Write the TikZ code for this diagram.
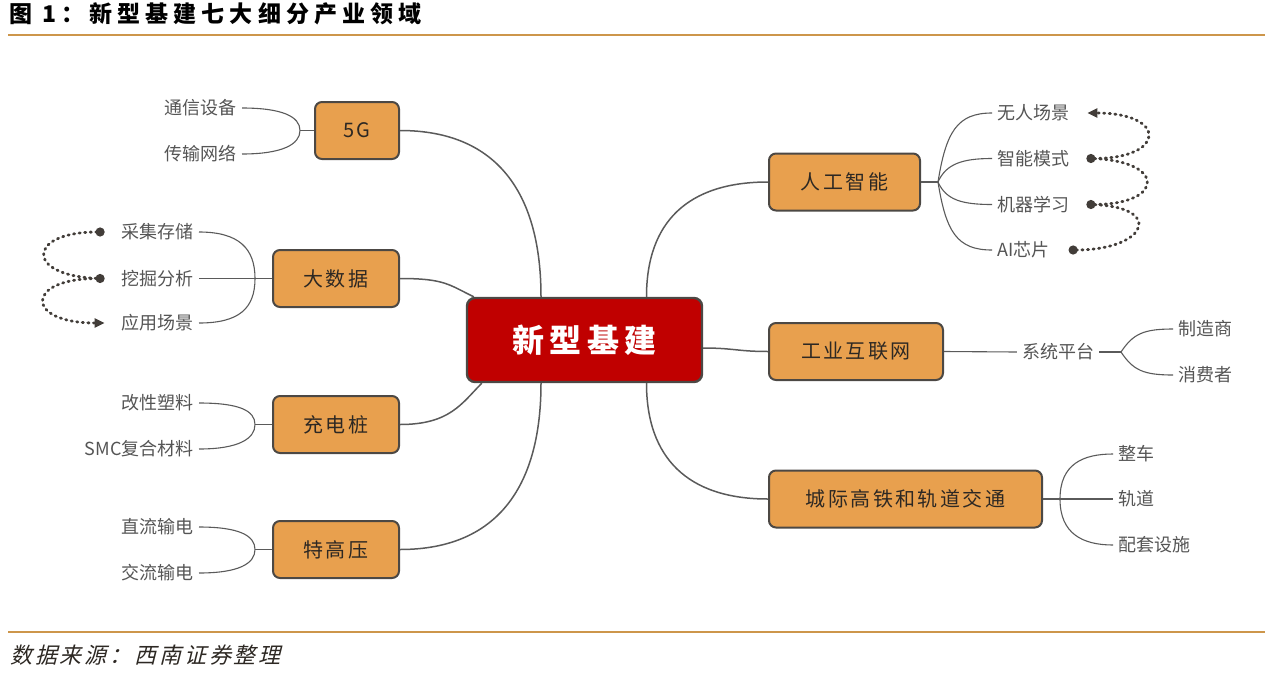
\documentclass[tikz,border=0pt]{standalone}
\usepackage{fontspec}
\setmainfont{Noto Sans CJK SC}
\newfontfamily\spacedfont[LetterSpace=12]{Noto Sans CJK SC}
\newfontfamily\corefont[LetterSpace=16]{Noto Sans CJK SC}
\newfontfamily\titlefont[LetterSpace=22]{Noto Sans CJK SC}
\newfontfamily\notefont[FakeSlant=0.25,LetterSpace=13]{Noto Sans CJK SC}
\usetikzlibrary{
  arrows.meta,
  positioning,
  calc
}
\definecolor{rulegold}{RGB}{205,150,75}
\definecolor{boxorange}{RGB}{232,160,78}
\definecolor{corered}{RGB}{192,0,0}
\definecolor{edgegray}{RGB}{90,90,90}
\definecolor{leafgray}{RGB}{85,85,85}
\definecolor{inkdark}{RGB}{45,40,35}
\tikzset{
  branch/.style={draw=inkdark!85,line width=2pt,rounded corners=7pt,fill=boxorange,
    minimum height=57pt,text=inkdark,font=\spacedfont\fontsize{20}{24}\selectfont},
  core/.style={draw=inkdark!85,line width=2.4pt,rounded corners=8pt,fill=corered,
    minimum width=235pt,minimum height=84pt,text=white,
    font=\corefont\bfseries\fontsize{32}{36}\selectfont},
  leaf/.style={text=leafgray,font=\fontsize{18}{21}\selectfont,inner sep=5pt},
  link/.style={draw=edgegray,line width=1.5pt},
  twig/.style={draw=edgegray,line width=1.1pt},
  hop/.style={draw=inkdark!90,line width=2.8pt,dash pattern=on 1.2pt off 4.4pt,line cap=round},
  rule/.style={draw=rulegold,line width=2pt}
}

\begin{document}
\begin{tikzpicture}[x=1pt,y=-1pt]
  \useasboundingbox (0,0) rectangle (1268,672);
  % heading and rules
  \node[anchor=west,inner sep=0,font=\titlefont\bfseries\fontsize{23}{26}\selectfont] (title) at (9,14) {图 1：新型基建七大细分产业领域};
  \draw[rule] (8,35) -- (1265,35);
  \draw[rule] (8,632) -- (1265,632);
  \node[anchor=west,inner sep=0,text=inkdark,font=\notefont\fontsize{22}{25}\selectfont] (source) at (10,655) {数据来源：西南证券整理};

  % centre and branches
  \node[core] (hub) at (584.5,340) {新型基建};
  \node[branch,minimum width=84pt] (fiveg) at (357,130.5) {5G};
  \node[branch,minimum width=126pt] (bigdata) at (336,278.5) {大数据};
  \node[branch,minimum width=126pt] (charge) at (336,424.5) {充电桩};
  \node[branch,minimum width=126pt] (uhv) at (336,549.5) {特高压};
  \node[branch,minimum width=151pt] (ai) at (844.5,182) {人工智能};
  \node[branch,minimum width=174pt] (iiot) at (856,351.5) {工业互联网};
  \node[branch,minimum width=273pt] (rail) at (905.5,499) {城际高铁和轨道交通};

  \draw[link] (fiveg.east) .. controls +(100,0) and +(0,-100) .. ([xshift=-43.5pt]hub.north);
  \draw[link] (bigdata.east) .. controls +(45,0) and +(-25,-12) .. ([xshift=8pt]hub.north west);
  \draw[link] (charge.east) .. controls +(50,0) and +(-20,20) .. ([xshift=16pt]hub.south west);
  \draw[link] (uhv.east) .. controls +(100,0) and +(0,100) .. ([xshift=-43.5pt]hub.south);
  \draw[link] (ai.west) .. controls +(-80,0) and +(0,-75) .. ([xshift=62pt]hub.north);
  \draw[link] (iiot.west) .. controls +(-30,0) and +(30,0) .. ([yshift=-8pt]hub.east);
  \draw[link] (rail.west) .. controls +(-80,0) and +(0,75) .. ([xshift=62pt]hub.south);

  % 5G
  \node[leaf,anchor=east] (telecom) at (242,108) {通信设备};
  \node[leaf,anchor=east] (transnet) at (242,154) {传输网络};
  \coordinate (j5g) at (300,130.5);
  \draw[twig] (telecom.east) .. controls +(40,0) and +(0,-14) .. (j5g);
  \draw[twig] (transnet.east) .. controls +(40,0) and +(0,14) .. (j5g);
  \draw[twig] (j5g) -- (fiveg.west);

  % big data
  \node[leaf,anchor=east] (collect) at (199,232) {采集存储};
  \node[leaf,anchor=east] (mining) at (199,278.5) {挖掘分析};
  \node[leaf,anchor=east] (usage) at (199,323) {应用场景};
  \coordinate (jdata) at (255,278.5);
  \draw[twig] (collect.east) .. controls +(40,0) and +(0,-30) .. (jdata);
  \draw[twig] (usage.east) .. controls +(40,0) and +(0,30) .. (jdata);
  \draw[twig] (mining.east) -- (bigdata.west);
  \coordinate (dcollect) at ([xshift=-12pt]collect.west);
  \coordinate (dmining) at ([xshift=-12pt]mining.west);
  \coordinate (dusage) at ([xshift=-12pt]usage.west);
  \draw[hop,{Circle[length=9pt]}-] (dcollect) .. controls +(-80,0) and +(-80,0) .. (dmining);
  \draw[hop,{Circle[length=9pt]}-{Triangle[length=10pt,width=9pt]}] (dmining) .. controls +(-80,0) and +(-80,0) .. (dusage);

  % charging
  \node[leaf,anchor=east] (plastic) at (199,403) {改性塑料};
  \node[leaf,anchor=east] (smc) at (199,449) {SMC复合材料};
  \coordinate (jcharge) at (255,424.5);
  \draw[twig] (plastic.east) .. controls +(40,0) and +(0,-14) .. (jcharge);
  \draw[twig] (smc.east) .. controls +(40,0) and +(0,14) .. (jcharge);
  \draw[twig] (jcharge) -- (charge.west);

  % uhv
  \node[leaf,anchor=east] (dcline) at (199,527) {直流输电};
  \node[leaf,anchor=east] (acline) at (199,573) {交流输电};
  \coordinate (juhv) at (255,549.5);
  \draw[twig] (dcline.east) .. controls +(40,0) and +(0,-14) .. (juhv);
  \draw[twig] (acline.east) .. controls +(40,0) and +(0,14) .. (juhv);
  \draw[twig] (juhv) -- (uhv.west);

  % ai
  \node[leaf,anchor=west] (driverless) at (992,113) {无人场景};
  \node[leaf,anchor=west] (smartmode) at (992,158.5) {智能模式};
  \node[leaf,anchor=west] (mlearn) at (992,204.5) {机器学习};
  \node[leaf,anchor=west] (aichip) at (992,250) {AI芯片};
  \coordinate (jai) at (938,182);
  \draw[twig] (ai.east) -- (jai);
  \draw[twig] (jai) .. controls +(8,-50) and +(-35,0) .. (driverless.west);
  \draw[twig] (jai) .. controls +(8,-18) and +(-30,0) .. (smartmode.west);
  \draw[twig] (jai) .. controls +(8,18) and +(-30,0) .. (mlearn.west);
  \draw[twig] (jai) .. controls +(8,50) and +(-35,0) .. (aichip.west);
  \coordinate (ddriverless) at ([xshift=13pt]driverless.east);
  \coordinate (dsmartmode) at ([xshift=12pt]smartmode.east);
  \coordinate (dmlearn) at ([xshift=12pt]mlearn.east);
  \coordinate (daichip) at ([xshift=14pt]aichip.east);
  \draw[hop,{Circle[length=9pt]}-] (daichip) .. controls +(80,0) and +(80,0) .. (dmlearn);
  \draw[hop,{Circle[length=9pt]}-] (dmlearn) .. controls +(80,0) and +(80,0) .. (dsmartmode);
  \draw[hop,{Circle[length=9pt]}-{Triangle[length=10pt,width=9pt]}] (dsmartmode) .. controls +(80,0) and +(80,0) .. (ddriverless);

  % industrial internet
  \node[leaf] (platform) at (1058,352) {系统平台};
  \node[leaf,anchor=west] (maker) at (1173,329) {制造商};
  \node[leaf,anchor=west] (consumer) at (1173,375) {消费者};
  \coordinate (jiiot) at (1121,352);
  \draw[twig] (iiot.east) -- (platform.west);
  \draw[twig] (platform.east) -- (jiiot);
  \draw[twig] (jiiot) .. controls +(12,-18) and +(-30,0) .. (maker.west);
  \draw[twig] (jiiot) .. controls +(12,18) and +(-30,0) .. (consumer.west);

  % rail
  \node[leaf,anchor=west] (vehicle) at (1113,454) {整车};
  \node[leaf,anchor=west] (track) at (1113,499) {轨道};
  \node[leaf,anchor=west] (facility) at (1113,545) {配套设施};
  \coordinate (jrail) at (1060,499);
  \draw[twig] (rail.east) -- (track.west);
  \draw[twig] (jrail) .. controls +(0,-35) and +(-30,0) .. (vehicle.west);
  \draw[twig] (jrail) .. controls +(0,35) and +(-30,0) .. (facility.west);
\end{tikzpicture}
\end{document}
